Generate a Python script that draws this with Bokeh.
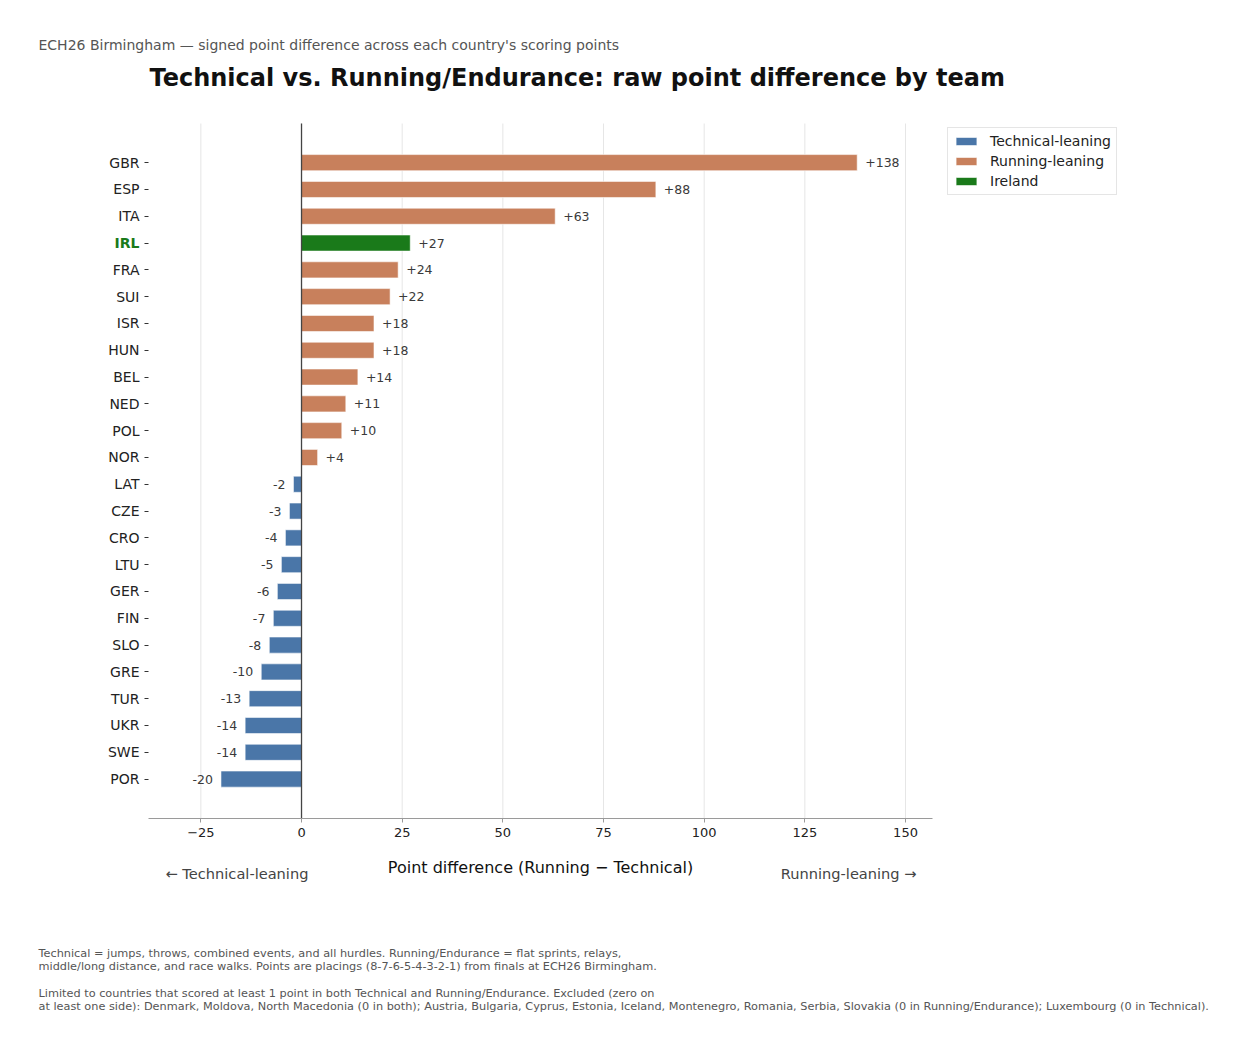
from bokeh.plotting import figure
from bokeh.models import ColumnDataSource, Legend, LegendItem, FixedTicker, Range1d
from bokeh.core.properties import value
from bokeh.embed import file_html
from bokeh.resources import INLINE

# ---- data ----
countries = ["GBR", "ESP", "ITA", "IRL", "FRA", "SUI", "ISR", "HUN", "BEL", "NED", "POL", "NOR",
             "LAT", "CZE", "CRO", "LTU", "GER", "FIN", "SLO", "GRE", "TUR", "UKR", "SWE", "POR"]
diffs = [138, 88, 63, 27, 24, 22, 18, 18, 14, 11, 10, 4,
         -2, -3, -4, -5, -6, -7, -8, -10, -13, -14, -14, -20]
highlight = "IRL"
x_ticks = [-25, 0, 25, 50, 75, 100, 125, 150]
legend_labels = ["Technical-leaning", "Running-leaning", "Ireland"]

title_text = "Technical vs. Running/Endurance: raw point difference by team"
subtitle_text = "ECH26 Birmingham \u2014 signed point difference across each country's scoring points"
xlabel_text = "Point difference (Running \u2212 Technical)"
left_note = "\u2190 Technical-leaning"
right_note = "Running-leaning \u2192"
footnotes = [
    "Technical = jumps, throws, combined events, and all hurdles. Running/Endurance = flat sprints, relays,",
    "middle/long distance, and race walks. Points are placings (8-7-6-5-4-3-2-1) from finals at ECH26 Birmingham.",
    "Limited to countries that scored at least 1 point in both Technical and Running/Endurance. Excluded (zero on",
    "at least one side): Denmark, Moldova, North Macedonia (0 in both); Austria, Bulgaria, Cyprus, Estonia, Iceland, Montenegro, Romania, Serbia, Slovakia (0 in Running/Endurance); Luxembourg (0 in Technical).",
]

# ---- style / layout constants ----
BLUE = "#4a76a8"
ORANGE = "#c8805c"
GREEN = "#1a7a1a"
FONT = "DejaVu Sans"
W, H = 1234, 1020
PL, PR, PT, PB = 148, 932, 123, 818          # plot area on the canvas (px)

n = len(countries)
ypos = [n - 1 - i for i in range(n)]
X_START, X_END = -38.0, 156.7
Y_BOTTOM, Y_TOP = -1.47, n - 1 + 1.46

sx = (PR - PL) / (X_END - X_START)
sy = (PB - PT) / (Y_TOP - Y_BOTTOM)


def px2x(px):
    return X_START + (px - PL) / sx


def px2y(py):
    return Y_BOTTOM + (PB - py) / sy


p = figure(width=W, height=H,
           x_range=Range1d(px2x(0), px2x(W)), y_range=Range1d(px2y(H), px2y(0)),
           output_backend="svg", toolbar_location=None,
           min_border_left=0, min_border_right=0, min_border_top=0, min_border_bottom=0)
p.outline_line_color = None
p.xgrid.visible = False
p.ygrid.visible = False

# grid lines limited to the plot area
p.segment(x0=x_ticks, x1=x_ticks, y0=[Y_BOTTOM] * len(x_ticks), y1=[Y_TOP] * len(x_ticks),
          line_color="#e6e6e6", line_width=1)


def subset(cond):
    d = {"y": [], "x": []}
    for c, v, y in zip(countries, diffs, ypos):
        if cond(c, v):
            d["y"].append(y)
            d["x"].append(v)
    return ColumnDataSource(d)


bar_kw = dict(y="y", right="x", left=0, height=0.6, line_color="white", line_width=0.8, line_alpha=0.7)
r_tech = p.hbar(source=subset(lambda c, v: v < 0 and c != highlight), fill_color=BLUE, **bar_kw)
r_run = p.hbar(source=subset(lambda c, v: v > 0 and c != highlight), fill_color=ORANGE, **bar_kw)
r_irl = p.hbar(source=subset(lambda c, v: c == highlight), fill_color=GREEN, **bar_kw)

# zero line
p.segment(x0=[0], x1=[0], y0=[Y_BOTTOM], y1=[Y_TOP], line_color="#444444", line_width=1.3)

# value labels
pos = {"x": [], "y": [], "t": []}
neg = {"x": [], "y": [], "t": []}
for v, y in zip(diffs, ypos):
    if v >= 0:
        pos["x"].append(v); pos["y"].append(y); pos["t"].append(f"+{v}")
    else:
        neg["x"].append(v); neg["y"].append(y); neg["t"].append(f"{v}")
lab_kw = dict(x="x", y="y", text="t", text_baseline="middle", text_font=value(FONT),
              text_font_size="12.5px", text_color="#3a3a3a")
p.text(source=ColumnDataSource(pos), x_offset=8, text_align="left", **lab_kw)
p.text(source=ColumnDataSource(neg), x_offset=-8, text_align="right", **lab_kw)

# x axis (pinned to the plot area)
xa = p.xaxis[0]
xa.fixed_location = Y_BOTTOM
xa.bounds = (X_START, X_END)
xa.ticker = FixedTicker(ticks=x_ticks)
xa.major_label_overrides = {t: (f"\u2212{abs(t)}" if t < 0 else str(t)) for t in x_ticks}
xa.axis_line_color = "#9a9a9a"
xa.major_tick_line_color = "#9a9a9a"
xa.major_tick_out = 4
xa.major_tick_in = 0
xa.minor_tick_line_color = None
xa.major_label_text_font = FONT
xa.major_label_text_font_size = "13px"
xa.major_label_text_color = "#222222"
xa.major_label_standoff = 5
xa.axis_label = xlabel_text
xa.axis_label_text_font = FONT
xa.axis_label_text_font_size = "16px"
xa.axis_label_text_font_style = "normal"
xa.axis_label_text_color = "#111111"
xa.axis_label_standoff = 18

# y axis (country labels)
ya = p.yaxis[0]
ya.fixed_location = X_START
ya.bounds = (Y_BOTTOM, Y_TOP)
ya.ticker = FixedTicker(ticks=ypos)
ya.major_label_overrides = {y: ("" if c == highlight else c) for c, y in zip(countries, ypos)}
ya.axis_line_color = None
ya.major_tick_line_color = "#333333"
ya.major_tick_out = 4
ya.major_tick_in = 0
ya.minor_tick_line_color = None
ya.major_label_text_font = FONT
ya.major_label_text_font_size = "14px"
ya.major_label_text_color = "#222222"
ya.major_label_standoff = 5

# highlighted country label in green
hl = {"x": [], "y": [], "t": []}
for c, y in zip(countries, ypos):
    if c == highlight:
        hl["x"].append(X_START); hl["y"].append(y); hl["t"].append(c)
p.text(x="x", y="y", text="t", source=ColumnDataSource(hl), x_offset=-9,
       text_align="right", text_baseline="middle", text_font=value(FONT),
       text_font_size="14px", text_font_style="bold", text_color=GREEN)

# legend
legend = Legend(items=[LegendItem(label=legend_labels[0], renderers=[r_tech]),
                       LegendItem(label=legend_labels[1], renderers=[r_run]),
                       LegendItem(label=legend_labels[2], renderers=[r_irl])],
                location=(947, H - 195), orientation="vertical",
                label_text_font=FONT, label_text_font_size="14px", label_text_color="#222222",
                glyph_width=26, glyph_height=10, label_height=16, spacing=4,
                label_standoff=11, padding=5, margin=0,
                border_line_color="#cccccc", border_line_width=1,
                background_fill_color="white", background_fill_alpha=1)
p.add_layout(legend, "center")


# surrounding texts
def put(px, py, txt, size, color, align="left", style="normal"):
    p.text(x=[px2x(px)], y=[px2y(py)], text=[txt], text_align=align, text_baseline="middle",
           text_font=value(FONT), text_font_size=size, text_color=color, text_font_style=style)


put(38, 44, subtitle_text, "14px", "#555555")
put(149, 77, title_text, "24px", "#111111", style="bold")
put(165, 873, left_note, "14.6px", "#444444")
put(916, 873, right_note, "14.6px", "#444444", align="right")
for txt, yy in zip(footnotes, [953, 966, 993, 1006]):
    put(38, yy, txt, "11.3px", "#555555")

open("out.html", "w").write(file_html(p, INLINE))
